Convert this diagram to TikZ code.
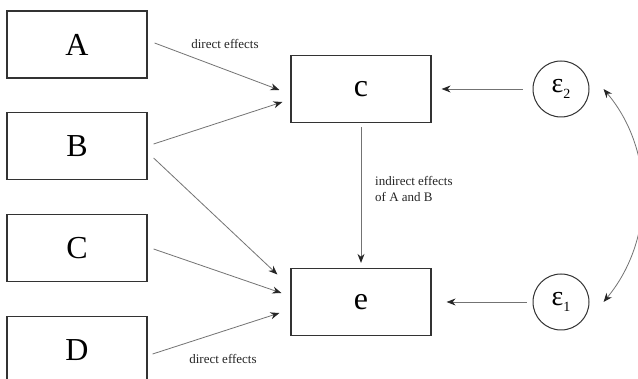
\documentclass[tikz,border=0pt]{standalone}
\usepackage{fontspec}
\setmainfont{Liberation Serif}
\usetikzlibrary{arrows.meta,calc}
\begin{document}
\begin{tikzpicture}[x=1pt,y=-1pt,
  boxnode/.style={draw=black!80,line width=1.2pt,minimum width=140pt,minimum height=67pt,inner sep=0pt,font=\fontsize{32}{36}\selectfont},
  errnode/.style={draw=black!80,line width=1pt,circle,minimum size=56pt,inner sep=0pt,font=\fontsize{28}{32}\selectfont},
  arr/.style={draw=black!55,line width=0.8pt,-{Stealth[length=9pt,width=7pt,color=black!85]}},
  lbl/.style={font=\fontsize{13}{15}\selectfont,text=black!85,inner sep=0pt}]
\clip (0,0) rectangle (638,379);
\fill[white] (0,0) rectangle (638,379);
\node[boxnode] (A) at (77,44.5) {A};
\node[boxnode] (B) at (77,146) {B};
\node[boxnode] (C) at (77,248) {C};
\node[boxnode] (D) at (77,350) {D};
\node[boxnode] (c) at (361,89) {c};
\node[boxnode] (e) at (361,302) {e};
\node[errnode] (e2) at (561,89) {ε\raisebox{-6pt}{\fontsize{14}{16}\selectfont 2}};
\node[errnode] (e1) at (561,302) {ε\raisebox{-6pt}{\fontsize{14}{16}\selectfont 1}};
\draw[arr] ($(A.east)+(7,-1.5)$) -- ($(c.west)+(-11,1)$);
\draw[arr] ($(B.east)+(6,-2)$) -- ($(c.west)+(-8,13)$);
\draw[arr] ($(B.east)+(6,12)$) -- ($(e.west)+(-13,-27.5)$);
\draw[arr] ($(C.east)+(6,1)$) -- ($(e.west)+(-9,-9)$);
\draw[arr] ($(D.east)+(5,4)$) -- ($(e.west)+(-11,11)$);
\draw[arr] ($(c.south)+(0,4)$) -- ($(e.north)+(0,-5)$);
\draw[arr] ($(e2.west)+(-10,0)$) -- ($(c.east)+(10,0)$);
\draw[arr] ($(e1.west)+(-6,0)$) -- ($(e.east)+(15,0)$);
\draw[draw=black!55,line width=0.8pt,{Stealth[length=9pt,width=7pt,color=black!85]}-{Stealth[length=9pt,width=7pt,color=black!85]}]
  ($(e2.east)+(14,0)$) .. controls (655,150) and (655,240) .. ($(e1.east)+(14,0)$);
\node[lbl] (l1) at (225,44) {direct effects};
\node[lbl] (l2) at (223,359) {direct effects};
\node[lbl,anchor=north west,align=left] (l3) at (375,176) {indirect effects\\[1pt]of A and B};
\end{tikzpicture}
\end{document}
